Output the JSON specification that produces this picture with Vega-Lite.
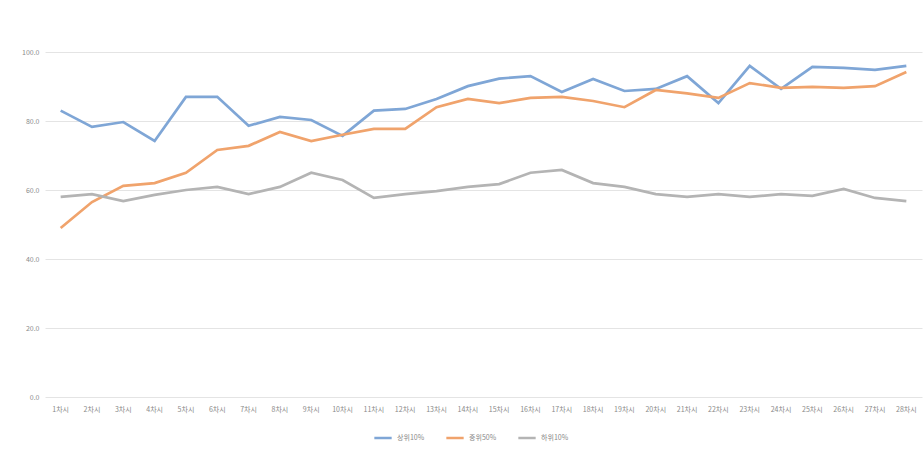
{
  "$schema": "https://vega.github.io/schema/vega-lite/v6.json",
  "width": 877,
  "height": 345,
  "autosize": {"type": "none"},
  "padding": {"left": 45, "top": 52, "right": 1, "bottom": 53},
  "background": "white",
  "config": {"view": {"stroke": null}, "font": "Noto Sans CJK KR"},
  "data": {"values": [
    {"t":"1차시","g":"상위10%","v":83},{"t":"2차시","g":"상위10%","v":78.3},{"t":"3차시","g":"상위10%","v":79.7},{"t":"4차시","g":"상위10%","v":74.2},{"t":"5차시","g":"상위10%","v":87},{"t":"6차시","g":"상위10%","v":87},{"t":"7차시","g":"상위10%","v":78.6},{"t":"8차시","g":"상위10%","v":81.2},{"t":"9차시","g":"상위10%","v":80.3},{"t":"10차시","g":"상위10%","v":75.7},{"t":"11차시","g":"상위10%","v":83},{"t":"12차시","g":"상위10%","v":83.5},{"t":"13차시","g":"상위10%","v":86.4},{"t":"14차시","g":"상위10%","v":90.1},{"t":"15차시","g":"상위10%","v":92.3},{"t":"16차시","g":"상위10%","v":93},{"t":"17차시","g":"상위10%","v":88.4},{"t":"18차시","g":"상위10%","v":92.2},{"t":"19차시","g":"상위10%","v":88.7},{"t":"20차시","g":"상위10%","v":89.3},{"t":"21차시","g":"상위10%","v":93},{"t":"22차시","g":"상위10%","v":85.2},{"t":"23차시","g":"상위10%","v":96},{"t":"24차시","g":"상위10%","v":89.3},{"t":"25차시","g":"상위10%","v":95.7},{"t":"26차시","g":"상위10%","v":95.4},{"t":"27차시","g":"상위10%","v":94.8},{"t":"28차시","g":"상위10%","v":96},
    {"t":"1차시","g":"중위50%","v":49},{"t":"2차시","g":"중위50%","v":56.5},{"t":"3차시","g":"중위50%","v":61.2},{"t":"4차시","g":"중위50%","v":62},{"t":"5차시","g":"중위50%","v":65},{"t":"6차시","g":"중위50%","v":71.6},{"t":"7차시","g":"중위50%","v":72.8},{"t":"8차시","g":"중위50%","v":76.8},{"t":"9차시","g":"중위50%","v":74.2},{"t":"10차시","g":"중위50%","v":76},{"t":"11차시","g":"중위50%","v":77.7},{"t":"12차시","g":"중위50%","v":77.7},{"t":"13차시","g":"중위50%","v":84},{"t":"14차시","g":"중위50%","v":86.4},{"t":"15차시","g":"중위50%","v":85.2},{"t":"16차시","g":"중위50%","v":86.7},{"t":"17차시","g":"중위50%","v":87},{"t":"18차시","g":"중위50%","v":85.8},{"t":"19차시","g":"중위50%","v":84},{"t":"20차시","g":"중위50%","v":89},{"t":"21차시","g":"중위50%","v":88},{"t":"22차시","g":"중위50%","v":86.7},{"t":"23차시","g":"중위50%","v":91},{"t":"24차시","g":"중위50%","v":89.6},{"t":"25차시","g":"중위50%","v":89.9},{"t":"26차시","g":"중위50%","v":89.6},{"t":"27차시","g":"중위50%","v":90.1},{"t":"28차시","g":"중위50%","v":94.2},
    {"t":"1차시","g":"하위10%","v":58},{"t":"2차시","g":"하위10%","v":58.8},{"t":"3차시","g":"하위10%","v":56.8},{"t":"4차시","g":"하위10%","v":58.6},{"t":"5차시","g":"하위10%","v":60},{"t":"6차시","g":"하위10%","v":60.9},{"t":"7차시","g":"하위10%","v":58.8},{"t":"8차시","g":"하위10%","v":60.9},{"t":"9차시","g":"하위10%","v":65},{"t":"10차시","g":"하위10%","v":62.9},{"t":"11차시","g":"하위10%","v":57.7},{"t":"12차시","g":"하위10%","v":58.8},{"t":"13차시","g":"하위10%","v":59.7},{"t":"14차시","g":"하위10%","v":60.9},{"t":"15차시","g":"하위10%","v":61.7},{"t":"16차시","g":"하위10%","v":65},{"t":"17차시","g":"하위10%","v":65.8},{"t":"18차시","g":"하위10%","v":62},{"t":"19차시","g":"하위10%","v":60.9},{"t":"20차시","g":"하위10%","v":58.8},{"t":"21차시","g":"하위10%","v":58},{"t":"22차시","g":"하위10%","v":58.8},{"t":"23차시","g":"하위10%","v":58},{"t":"24차시","g":"하위10%","v":58.8},{"t":"25차시","g":"하위10%","v":58.3},{"t":"26차시","g":"하위10%","v":60.3},{"t":"27차시","g":"하위10%","v":57.7},{"t":"28차시","g":"하위10%","v":56.8}
  ]},
  "mark": {"type": "line", "strokeWidth": 2.7},
  "encoding": {
    "x": {"field": "t", "type": "ordinal", "sort": null, "scale": {"type": "band", "paddingInner": 0, "paddingOuter": 0},
      "axis": {"title": null, "labelAngle": 0, "labelFontSize": 7, "labelColor": "#8a8a8a", "ticks": false, "domain": false, "labelPadding": 8, "grid": false}},
    "y": {"field": "v", "type": "quantitative", "scale": {"domain": [0, 100]},
      "axis": {"title": null, "values": [0, 20, 40, 60, 80, 100], "format": ".1f", "labelFontSize": 7, "labelColor": "#8a8a8a", "ticks": false, "domain": false, "gridColor": "#e4e4e4", "labelPadding": 6}},
    "color": {"field": "g", "type": "nominal", "sort": ["상위10%", "중위50%", "하위10%"],
      "scale": {"domain": ["상위10%", "중위50%", "하위10%"], "range": ["#7fa6d6", "#f0a36c", "#b4b4b4"]},
      "legend": {"title": null, "orient": "none", "legendX": 328, "legendY": 376, "direction": "horizontal", "symbolType": "stroke", "symbolStrokeWidth": 2.5, "symbolSize": 300, "labelFontSize": 7, "labelColor": "#8a8a8a", "columnPadding": 16}}
  }
}
